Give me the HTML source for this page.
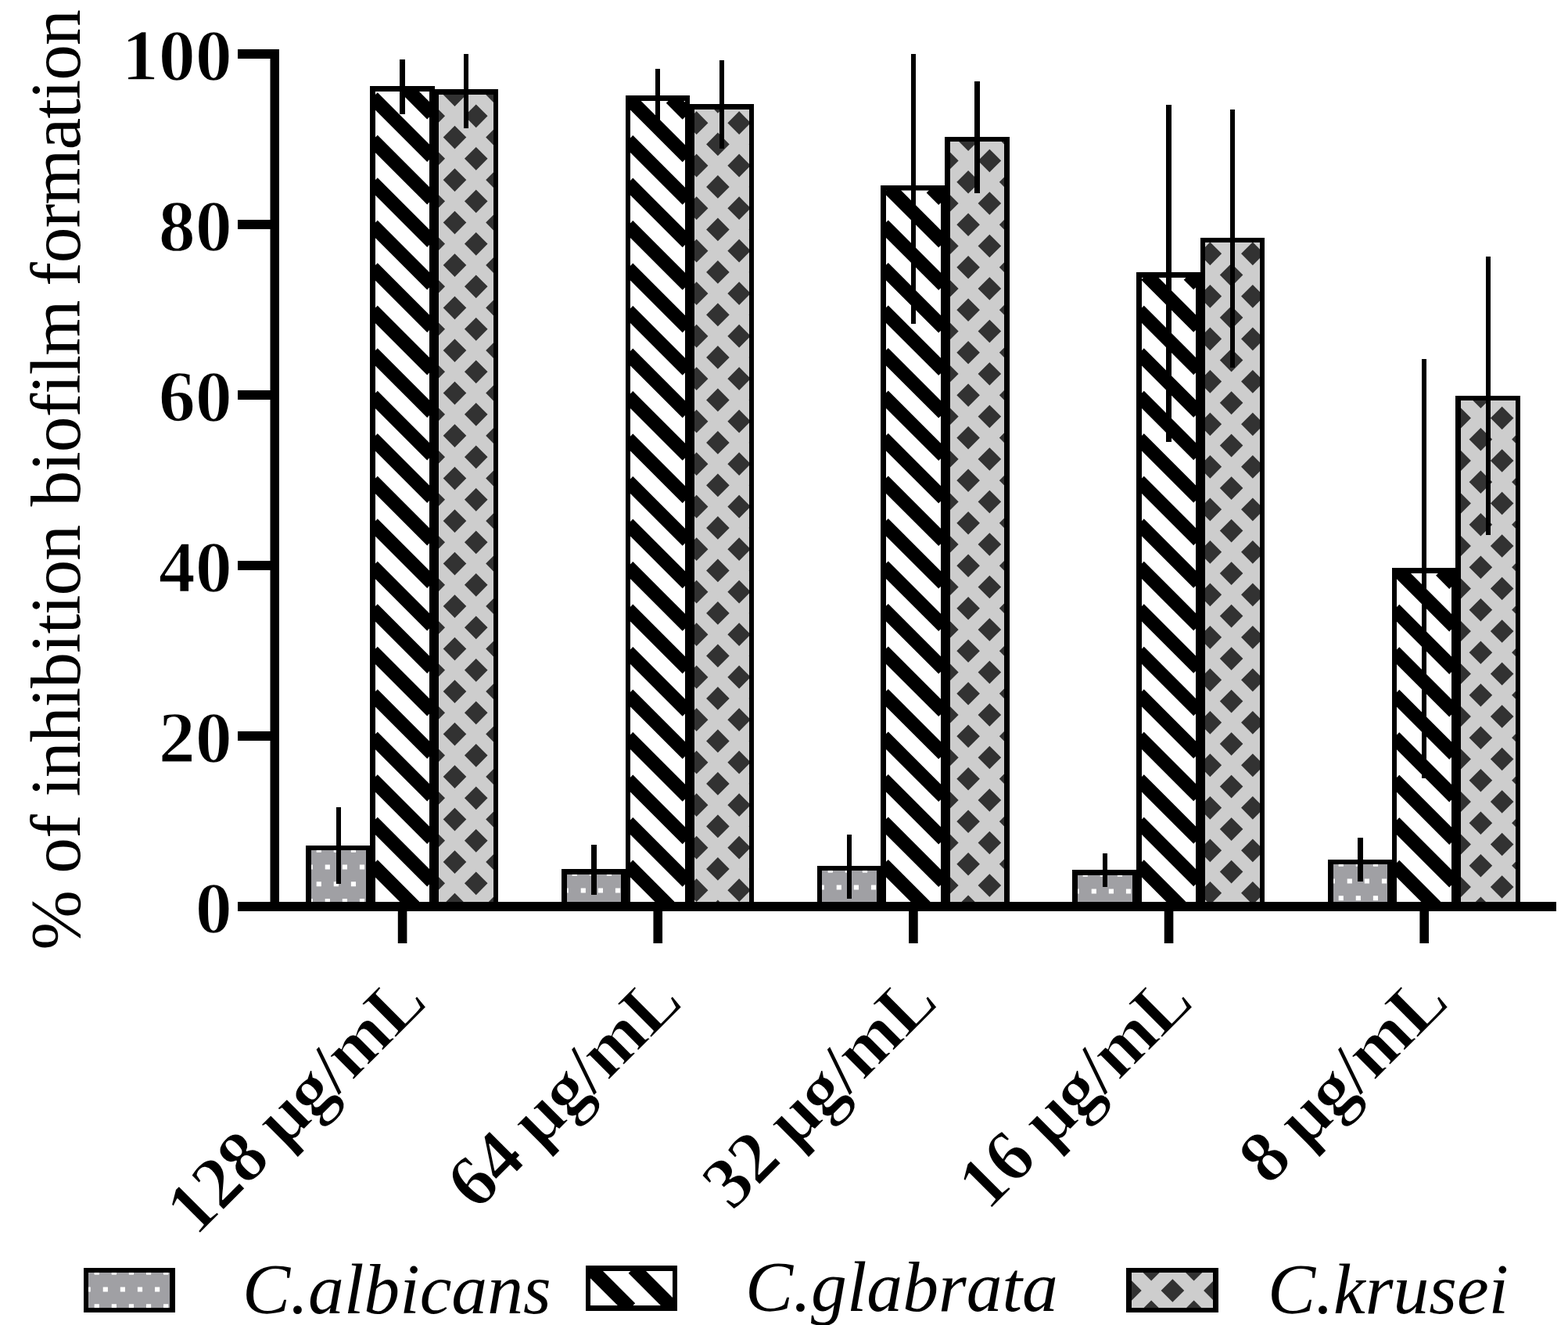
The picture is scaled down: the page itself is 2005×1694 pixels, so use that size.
<!DOCTYPE html>
<html lang="en"><head><meta charset="utf-8"><title>% of inhibition biofilm formation</title>
<style>html,body{margin:0;padding:0;background:#fff}body{width:2005px;height:1694px;overflow:hidden}svg{display:block}text{font-family:"Liberation Serif",serif;font-size:91.67px;fill:#000}.b{font-weight:bold;stroke:#fff;stroke-width:1.6px;stroke-linejoin:round}.b text{font-size:94.1px}#xticklabels{letter-spacing:-1.25px}.i{font-style:italic}</style></head><body>
<svg width="2005" height="1694" viewBox="0 0 2005 1694" role="img" aria-label="Bar chart: % of inhibition biofilm formation">
<rect x="0" y="0" width="2005" height="1694" fill="#fff"/>
<g id="bars">
<clipPath id="c1"><rect x="397" y="1086" width="72" height="68"/></clipPath>
<g clip-path="url(#c1)">
<rect x="397" y="1086" width="72" height="68" fill="#a0a0a4"/>
<path fill="#fff" d="M404.65 1083.65h6.2v6.2h-6.2zM426.75 1083.65h6.2v6.2h-6.2zM448.85 1083.65h6.2v6.2h-6.2zM470.95 1083.65h6.2v6.2h-6.2zM393.6 1105.4h6.2v6.2h-6.2zM415.7 1105.4h6.2v6.2h-6.2zM437.8 1105.4h6.2v6.2h-6.2zM459.9 1105.4h6.2v6.2h-6.2zM404.65 1127.15h6.2v6.2h-6.2zM426.75 1127.15h6.2v6.2h-6.2zM448.85 1127.15h6.2v6.2h-6.2zM470.95 1127.15h6.2v6.2h-6.2zM393.6 1148.9h6.2v6.2h-6.2zM415.7 1148.9h6.2v6.2h-6.2zM437.8 1148.9h6.2v6.2h-6.2zM459.9 1148.9h6.2v6.2h-6.2z"/>
</g>
<path fill="#000" d="M391 1081H475V1154H468V1087H398V1154H391Z"/>
<clipPath id="c2"><rect x="479" y="116" width="71" height="1038"/></clipPath>
<g clip-path="url(#c2)">
<rect x="479" y="116" width="71" height="1038" fill="#fff"/>
<path fill="none" stroke="#000" stroke-width="17.82" stroke-linecap="butt" d="M519.9 113.5L552.5 146.1M476.5 124.6L552.5 200.6M476.5 179.1L552.5 255.1M476.5 233.6L552.5 309.6M476.5 288.1L552.5 364.1M476.5 342.6L552.5 418.6M476.5 397.1L552.5 473.1M476.5 451.6L552.5 527.6M476.5 506.1L552.5 582.1M476.5 560.6L552.5 636.6M476.5 615.1L552.5 691.1M476.5 669.6L552.5 745.6M476.5 724.1L552.5 800.1M476.5 778.6L552.5 854.6M476.5 833.1L552.5 909.1M476.5 887.6L552.5 963.6M476.5 942.1L552.5 1018.1M476.5 996.6L552.5 1072.6M476.5 1051.1L552.5 1127.1M476.5 1105.6L529.9 1159"/>
</g>
<path fill="#000" d="M473 110H556V1154H549V117H480V1154H473Z"/>
<clipPath id="c3"><rect x="560" y="120" width="72" height="1034"/></clipPath>
<g clip-path="url(#c3)">
<rect x="560" y="120" width="72" height="1034" fill="#cdcdcd"/>
<path fill="#323232" d="M554.25 133.55l14.8 14.8l-14.8 14.8l-14.8 -14.8zM554.25 188.05l14.8 14.8l-14.8 14.8l-14.8 -14.8zM554.25 242.55l14.8 14.8l-14.8 14.8l-14.8 -14.8zM554.25 297.05l14.8 14.8l-14.8 14.8l-14.8 -14.8zM554.25 351.55l14.8 14.8l-14.8 14.8l-14.8 -14.8zM554.25 406.05l14.8 14.8l-14.8 14.8l-14.8 -14.8zM554.25 460.55l14.8 14.8l-14.8 14.8l-14.8 -14.8zM554.25 515.05l14.8 14.8l-14.8 14.8l-14.8 -14.8zM554.25 569.55l14.8 14.8l-14.8 14.8l-14.8 -14.8zM554.25 624.05l14.8 14.8l-14.8 14.8l-14.8 -14.8zM554.25 678.55l14.8 14.8l-14.8 14.8l-14.8 -14.8zM554.25 733.05l14.8 14.8l-14.8 14.8l-14.8 -14.8zM554.25 787.55l14.8 14.8l-14.8 14.8l-14.8 -14.8zM554.25 842.05l14.8 14.8l-14.8 14.8l-14.8 -14.8zM554.25 896.55l14.8 14.8l-14.8 14.8l-14.8 -14.8zM554.25 951.05l14.8 14.8l-14.8 14.8l-14.8 -14.8zM554.25 1005.55l14.8 14.8l-14.8 14.8l-14.8 -14.8zM554.25 1060.05l14.8 14.8l-14.8 14.8l-14.8 -14.8zM554.25 1114.55l14.8 14.8l-14.8 14.8l-14.8 -14.8zM581.5 106.3l14.8 14.8l-14.8 14.8l-14.8 -14.8zM581.5 160.8l14.8 14.8l-14.8 14.8l-14.8 -14.8zM581.5 215.3l14.8 14.8l-14.8 14.8l-14.8 -14.8zM581.5 269.8l14.8 14.8l-14.8 14.8l-14.8 -14.8zM581.5 324.3l14.8 14.8l-14.8 14.8l-14.8 -14.8zM581.5 378.8l14.8 14.8l-14.8 14.8l-14.8 -14.8zM581.5 433.3l14.8 14.8l-14.8 14.8l-14.8 -14.8zM581.5 487.8l14.8 14.8l-14.8 14.8l-14.8 -14.8zM581.5 542.3l14.8 14.8l-14.8 14.8l-14.8 -14.8zM581.5 596.8l14.8 14.8l-14.8 14.8l-14.8 -14.8zM581.5 651.3l14.8 14.8l-14.8 14.8l-14.8 -14.8zM581.5 705.8l14.8 14.8l-14.8 14.8l-14.8 -14.8zM581.5 760.3l14.8 14.8l-14.8 14.8l-14.8 -14.8zM581.5 814.8l14.8 14.8l-14.8 14.8l-14.8 -14.8zM581.5 869.3l14.8 14.8l-14.8 14.8l-14.8 -14.8zM581.5 923.8l14.8 14.8l-14.8 14.8l-14.8 -14.8zM581.5 978.3l14.8 14.8l-14.8 14.8l-14.8 -14.8zM581.5 1032.8l14.8 14.8l-14.8 14.8l-14.8 -14.8zM581.5 1087.3l14.8 14.8l-14.8 14.8l-14.8 -14.8zM581.5 1141.8l14.8 14.8l-14.8 14.8l-14.8 -14.8zM608.75 133.55l14.8 14.8l-14.8 14.8l-14.8 -14.8zM608.75 188.05l14.8 14.8l-14.8 14.8l-14.8 -14.8zM608.75 242.55l14.8 14.8l-14.8 14.8l-14.8 -14.8zM608.75 297.05l14.8 14.8l-14.8 14.8l-14.8 -14.8zM608.75 351.55l14.8 14.8l-14.8 14.8l-14.8 -14.8zM608.75 406.05l14.8 14.8l-14.8 14.8l-14.8 -14.8zM608.75 460.55l14.8 14.8l-14.8 14.8l-14.8 -14.8zM608.75 515.05l14.8 14.8l-14.8 14.8l-14.8 -14.8zM608.75 569.55l14.8 14.8l-14.8 14.8l-14.8 -14.8zM608.75 624.05l14.8 14.8l-14.8 14.8l-14.8 -14.8zM608.75 678.55l14.8 14.8l-14.8 14.8l-14.8 -14.8zM608.75 733.05l14.8 14.8l-14.8 14.8l-14.8 -14.8zM608.75 787.55l14.8 14.8l-14.8 14.8l-14.8 -14.8zM608.75 842.05l14.8 14.8l-14.8 14.8l-14.8 -14.8zM608.75 896.55l14.8 14.8l-14.8 14.8l-14.8 -14.8zM608.75 951.05l14.8 14.8l-14.8 14.8l-14.8 -14.8zM608.75 1005.55l14.8 14.8l-14.8 14.8l-14.8 -14.8zM608.75 1060.05l14.8 14.8l-14.8 14.8l-14.8 -14.8zM608.75 1114.55l14.8 14.8l-14.8 14.8l-14.8 -14.8zM636 106.3l14.8 14.8l-14.8 14.8l-14.8 -14.8zM636 160.8l14.8 14.8l-14.8 14.8l-14.8 -14.8zM636 215.3l14.8 14.8l-14.8 14.8l-14.8 -14.8zM636 269.8l14.8 14.8l-14.8 14.8l-14.8 -14.8zM636 324.3l14.8 14.8l-14.8 14.8l-14.8 -14.8zM636 378.8l14.8 14.8l-14.8 14.8l-14.8 -14.8zM636 433.3l14.8 14.8l-14.8 14.8l-14.8 -14.8zM636 487.8l14.8 14.8l-14.8 14.8l-14.8 -14.8zM636 542.3l14.8 14.8l-14.8 14.8l-14.8 -14.8zM636 596.8l14.8 14.8l-14.8 14.8l-14.8 -14.8zM636 651.3l14.8 14.8l-14.8 14.8l-14.8 -14.8zM636 705.8l14.8 14.8l-14.8 14.8l-14.8 -14.8zM636 760.3l14.8 14.8l-14.8 14.8l-14.8 -14.8zM636 814.8l14.8 14.8l-14.8 14.8l-14.8 -14.8zM636 869.3l14.8 14.8l-14.8 14.8l-14.8 -14.8zM636 923.8l14.8 14.8l-14.8 14.8l-14.8 -14.8zM636 978.3l14.8 14.8l-14.8 14.8l-14.8 -14.8zM636 1032.8l14.8 14.8l-14.8 14.8l-14.8 -14.8zM636 1087.3l14.8 14.8l-14.8 14.8l-14.8 -14.8zM636 1141.8l14.8 14.8l-14.8 14.8l-14.8 -14.8z"/>
</g>
<path fill="#000" d="M554 114H637V1154H631V121H561V1154H554Z"/>
<clipPath id="c4"><rect x="724" y="1117" width="71" height="37"/></clipPath>
<g clip-path="url(#c4)">
<rect x="724" y="1117" width="71" height="37" fill="#a0a0a4"/>
<path fill="#fff" d="M731.65 1113.65h6.2v6.2h-6.2zM753.75 1113.65h6.2v6.2h-6.2zM775.85 1113.65h6.2v6.2h-6.2zM797.95 1113.65h6.2v6.2h-6.2zM720.6 1135.4h6.2v6.2h-6.2zM742.7 1135.4h6.2v6.2h-6.2zM764.8 1135.4h6.2v6.2h-6.2zM786.9 1135.4h6.2v6.2h-6.2z"/>
</g>
<path fill="#000" d="M718 1111H801V1154H794V1118H725V1154H718Z"/>
<clipPath id="c5"><rect x="805" y="128" width="72" height="1026"/></clipPath>
<g clip-path="url(#c5)">
<rect x="805" y="128" width="72" height="1026" fill="#fff"/>
<path fill="none" stroke="#000" stroke-width="17.82" stroke-linecap="butt" d="M858.1 125.5L879 146.4M803.6 125.5L879 200.9M803 179.4L879 255.4M803 233.9L879 309.9M803 288.4L879 364.4M803 342.9L879 418.9M803 397.4L879 473.4M803 451.9L879 527.9M803 506.4L879 582.4M803 560.9L879 636.9M803 615.4L879 691.4M803 669.9L879 745.9M803 724.4L879 800.4M803 778.9L879 854.9M803 833.4L879 909.4M803 887.9L879 963.9M803 942.4L879 1018.4M803 996.9L879 1072.9M803 1051.4L879 1127.4M803 1105.9L856.1 1159"/>
</g>
<path fill="#000" d="M800 122H882V1154H876V129H806V1154H800Z"/>
<clipPath id="c6"><rect x="887" y="139" width="72" height="1015"/></clipPath>
<g clip-path="url(#c6)">
<rect x="887" y="139" width="72" height="1015" fill="#cdcdcd"/>
<path fill="#323232" d="M890.65 142.35l14.8 14.8l-14.8 14.8l-14.8 -14.8zM890.65 196.85l14.8 14.8l-14.8 14.8l-14.8 -14.8zM890.65 251.35l14.8 14.8l-14.8 14.8l-14.8 -14.8zM890.65 305.85l14.8 14.8l-14.8 14.8l-14.8 -14.8zM890.65 360.35l14.8 14.8l-14.8 14.8l-14.8 -14.8zM890.65 414.85l14.8 14.8l-14.8 14.8l-14.8 -14.8zM890.65 469.35l14.8 14.8l-14.8 14.8l-14.8 -14.8zM890.65 523.85l14.8 14.8l-14.8 14.8l-14.8 -14.8zM890.65 578.35l14.8 14.8l-14.8 14.8l-14.8 -14.8zM890.65 632.85l14.8 14.8l-14.8 14.8l-14.8 -14.8zM890.65 687.35l14.8 14.8l-14.8 14.8l-14.8 -14.8zM890.65 741.85l14.8 14.8l-14.8 14.8l-14.8 -14.8zM890.65 796.35l14.8 14.8l-14.8 14.8l-14.8 -14.8zM890.65 850.85l14.8 14.8l-14.8 14.8l-14.8 -14.8zM890.65 905.35l14.8 14.8l-14.8 14.8l-14.8 -14.8zM890.65 959.85l14.8 14.8l-14.8 14.8l-14.8 -14.8zM890.65 1014.35l14.8 14.8l-14.8 14.8l-14.8 -14.8zM890.65 1068.85l14.8 14.8l-14.8 14.8l-14.8 -14.8zM890.65 1123.35l14.8 14.8l-14.8 14.8l-14.8 -14.8zM917.9 115.1l14.8 14.8l-14.8 14.8l-14.8 -14.8zM917.9 169.6l14.8 14.8l-14.8 14.8l-14.8 -14.8zM917.9 224.1l14.8 14.8l-14.8 14.8l-14.8 -14.8zM917.9 278.6l14.8 14.8l-14.8 14.8l-14.8 -14.8zM917.9 333.1l14.8 14.8l-14.8 14.8l-14.8 -14.8zM917.9 387.6l14.8 14.8l-14.8 14.8l-14.8 -14.8zM917.9 442.1l14.8 14.8l-14.8 14.8l-14.8 -14.8zM917.9 496.6l14.8 14.8l-14.8 14.8l-14.8 -14.8zM917.9 551.1l14.8 14.8l-14.8 14.8l-14.8 -14.8zM917.9 605.6l14.8 14.8l-14.8 14.8l-14.8 -14.8zM917.9 660.1l14.8 14.8l-14.8 14.8l-14.8 -14.8zM917.9 714.6l14.8 14.8l-14.8 14.8l-14.8 -14.8zM917.9 769.1l14.8 14.8l-14.8 14.8l-14.8 -14.8zM917.9 823.6l14.8 14.8l-14.8 14.8l-14.8 -14.8zM917.9 878.1l14.8 14.8l-14.8 14.8l-14.8 -14.8zM917.9 932.6l14.8 14.8l-14.8 14.8l-14.8 -14.8zM917.9 987.1l14.8 14.8l-14.8 14.8l-14.8 -14.8zM917.9 1041.6l14.8 14.8l-14.8 14.8l-14.8 -14.8zM917.9 1096.1l14.8 14.8l-14.8 14.8l-14.8 -14.8zM917.9 1150.6l14.8 14.8l-14.8 14.8l-14.8 -14.8zM945.15 142.35l14.8 14.8l-14.8 14.8l-14.8 -14.8zM945.15 196.85l14.8 14.8l-14.8 14.8l-14.8 -14.8zM945.15 251.35l14.8 14.8l-14.8 14.8l-14.8 -14.8zM945.15 305.85l14.8 14.8l-14.8 14.8l-14.8 -14.8zM945.15 360.35l14.8 14.8l-14.8 14.8l-14.8 -14.8zM945.15 414.85l14.8 14.8l-14.8 14.8l-14.8 -14.8zM945.15 469.35l14.8 14.8l-14.8 14.8l-14.8 -14.8zM945.15 523.85l14.8 14.8l-14.8 14.8l-14.8 -14.8zM945.15 578.35l14.8 14.8l-14.8 14.8l-14.8 -14.8zM945.15 632.85l14.8 14.8l-14.8 14.8l-14.8 -14.8zM945.15 687.35l14.8 14.8l-14.8 14.8l-14.8 -14.8zM945.15 741.85l14.8 14.8l-14.8 14.8l-14.8 -14.8zM945.15 796.35l14.8 14.8l-14.8 14.8l-14.8 -14.8zM945.15 850.85l14.8 14.8l-14.8 14.8l-14.8 -14.8zM945.15 905.35l14.8 14.8l-14.8 14.8l-14.8 -14.8zM945.15 959.85l14.8 14.8l-14.8 14.8l-14.8 -14.8zM945.15 1014.35l14.8 14.8l-14.8 14.8l-14.8 -14.8zM945.15 1068.85l14.8 14.8l-14.8 14.8l-14.8 -14.8zM945.15 1123.35l14.8 14.8l-14.8 14.8l-14.8 -14.8zM972.4 115.1l14.8 14.8l-14.8 14.8l-14.8 -14.8zM972.4 169.6l14.8 14.8l-14.8 14.8l-14.8 -14.8zM972.4 224.1l14.8 14.8l-14.8 14.8l-14.8 -14.8zM972.4 278.6l14.8 14.8l-14.8 14.8l-14.8 -14.8zM972.4 333.1l14.8 14.8l-14.8 14.8l-14.8 -14.8zM972.4 387.6l14.8 14.8l-14.8 14.8l-14.8 -14.8zM972.4 442.1l14.8 14.8l-14.8 14.8l-14.8 -14.8zM972.4 496.6l14.8 14.8l-14.8 14.8l-14.8 -14.8zM972.4 551.1l14.8 14.8l-14.8 14.8l-14.8 -14.8zM972.4 605.6l14.8 14.8l-14.8 14.8l-14.8 -14.8zM972.4 660.1l14.8 14.8l-14.8 14.8l-14.8 -14.8zM972.4 714.6l14.8 14.8l-14.8 14.8l-14.8 -14.8zM972.4 769.1l14.8 14.8l-14.8 14.8l-14.8 -14.8zM972.4 823.6l14.8 14.8l-14.8 14.8l-14.8 -14.8zM972.4 878.1l14.8 14.8l-14.8 14.8l-14.8 -14.8zM972.4 932.6l14.8 14.8l-14.8 14.8l-14.8 -14.8zM972.4 987.1l14.8 14.8l-14.8 14.8l-14.8 -14.8zM972.4 1041.6l14.8 14.8l-14.8 14.8l-14.8 -14.8zM972.4 1096.1l14.8 14.8l-14.8 14.8l-14.8 -14.8zM972.4 1150.6l14.8 14.8l-14.8 14.8l-14.8 -14.8z"/>
</g>
<path fill="#000" d="M881 133H964V1154H958V140H888V1154H881Z"/>
<clipPath id="c7"><rect x="1050" y="1112" width="72" height="42"/></clipPath>
<g clip-path="url(#c7)">
<rect x="1050" y="1112" width="72" height="42" fill="#a0a0a4"/>
<path fill="#fff" d="M1058.65 1109.65h6.2v6.2h-6.2zM1080.75 1109.65h6.2v6.2h-6.2zM1102.85 1109.65h6.2v6.2h-6.2zM1124.95 1109.65h6.2v6.2h-6.2zM1047.6 1131.4h6.2v6.2h-6.2zM1069.7 1131.4h6.2v6.2h-6.2zM1091.8 1131.4h6.2v6.2h-6.2zM1113.9 1131.4h6.2v6.2h-6.2zM1058.65 1153.15h6.2v6.2h-6.2zM1080.75 1153.15h6.2v6.2h-6.2zM1102.85 1153.15h6.2v6.2h-6.2zM1124.95 1153.15h6.2v6.2h-6.2z"/>
</g>
<path fill="#000" d="M1045 1107H1128V1154H1121V1113H1051V1154H1045Z"/>
<clipPath id="c8"><rect x="1132" y="242.5" width="72" height="911.5"/></clipPath>
<g clip-path="url(#c8)">
<rect x="1132" y="242.5" width="72" height="911.5" fill="#fff"/>
<path fill="none" stroke="#000" stroke-width="17.82" stroke-linecap="butt" d="M1190.95 240.25L1206.5 255.8M1136.45 240.25L1206.5 310.3M1129.5 287.8L1206.5 364.8M1129.5 342.3L1206.5 419.3M1129.5 396.8L1206.5 473.8M1129.5 451.3L1206.5 528.3M1129.5 505.8L1206.5 582.8M1129.5 560.3L1206.5 637.3M1129.5 614.8L1206.5 691.8M1129.5 669.3L1206.5 746.3M1129.5 723.8L1206.5 800.8M1129.5 778.3L1206.5 855.3M1129.5 832.8L1206.5 909.8M1129.5 887.3L1206.5 964.3M1129.5 941.8L1206.5 1018.8M1129.5 996.3L1206.5 1073.3M1129.5 1050.8L1206.5 1127.8M1129.5 1105.3L1183.2 1159"/>
</g>
<path fill="#000" d="M1126 237H1210V1154H1203V243.5H1133V1154H1126Z"/>
<clipPath id="c9"><rect x="1214" y="180" width="71" height="974"/></clipPath>
<g clip-path="url(#c9)">
<rect x="1214" y="180" width="71" height="974" fill="#cdcdcd"/>
<path fill="#323232" d="M1210.85 190.65l14.8 14.8l-14.8 14.8l-14.8 -14.8zM1210.85 245.15l14.8 14.8l-14.8 14.8l-14.8 -14.8zM1210.85 299.65l14.8 14.8l-14.8 14.8l-14.8 -14.8zM1210.85 354.15l14.8 14.8l-14.8 14.8l-14.8 -14.8zM1210.85 408.65l14.8 14.8l-14.8 14.8l-14.8 -14.8zM1210.85 463.15l14.8 14.8l-14.8 14.8l-14.8 -14.8zM1210.85 517.65l14.8 14.8l-14.8 14.8l-14.8 -14.8zM1210.85 572.15l14.8 14.8l-14.8 14.8l-14.8 -14.8zM1210.85 626.65l14.8 14.8l-14.8 14.8l-14.8 -14.8zM1210.85 681.15l14.8 14.8l-14.8 14.8l-14.8 -14.8zM1210.85 735.65l14.8 14.8l-14.8 14.8l-14.8 -14.8zM1210.85 790.15l14.8 14.8l-14.8 14.8l-14.8 -14.8zM1210.85 844.65l14.8 14.8l-14.8 14.8l-14.8 -14.8zM1210.85 899.15l14.8 14.8l-14.8 14.8l-14.8 -14.8zM1210.85 953.65l14.8 14.8l-14.8 14.8l-14.8 -14.8zM1210.85 1008.15l14.8 14.8l-14.8 14.8l-14.8 -14.8zM1210.85 1062.65l14.8 14.8l-14.8 14.8l-14.8 -14.8zM1210.85 1117.15l14.8 14.8l-14.8 14.8l-14.8 -14.8zM1238.1 163.4l14.8 14.8l-14.8 14.8l-14.8 -14.8zM1238.1 217.9l14.8 14.8l-14.8 14.8l-14.8 -14.8zM1238.1 272.4l14.8 14.8l-14.8 14.8l-14.8 -14.8zM1238.1 326.9l14.8 14.8l-14.8 14.8l-14.8 -14.8zM1238.1 381.4l14.8 14.8l-14.8 14.8l-14.8 -14.8zM1238.1 435.9l14.8 14.8l-14.8 14.8l-14.8 -14.8zM1238.1 490.4l14.8 14.8l-14.8 14.8l-14.8 -14.8zM1238.1 544.9l14.8 14.8l-14.8 14.8l-14.8 -14.8zM1238.1 599.4l14.8 14.8l-14.8 14.8l-14.8 -14.8zM1238.1 653.9l14.8 14.8l-14.8 14.8l-14.8 -14.8zM1238.1 708.4l14.8 14.8l-14.8 14.8l-14.8 -14.8zM1238.1 762.9l14.8 14.8l-14.8 14.8l-14.8 -14.8zM1238.1 817.4l14.8 14.8l-14.8 14.8l-14.8 -14.8zM1238.1 871.9l14.8 14.8l-14.8 14.8l-14.8 -14.8zM1238.1 926.4l14.8 14.8l-14.8 14.8l-14.8 -14.8zM1238.1 980.9l14.8 14.8l-14.8 14.8l-14.8 -14.8zM1238.1 1035.4l14.8 14.8l-14.8 14.8l-14.8 -14.8zM1238.1 1089.9l14.8 14.8l-14.8 14.8l-14.8 -14.8zM1238.1 1144.4l14.8 14.8l-14.8 14.8l-14.8 -14.8zM1265.35 190.65l14.8 14.8l-14.8 14.8l-14.8 -14.8zM1265.35 245.15l14.8 14.8l-14.8 14.8l-14.8 -14.8zM1265.35 299.65l14.8 14.8l-14.8 14.8l-14.8 -14.8zM1265.35 354.15l14.8 14.8l-14.8 14.8l-14.8 -14.8zM1265.35 408.65l14.8 14.8l-14.8 14.8l-14.8 -14.8zM1265.35 463.15l14.8 14.8l-14.8 14.8l-14.8 -14.8zM1265.35 517.65l14.8 14.8l-14.8 14.8l-14.8 -14.8zM1265.35 572.15l14.8 14.8l-14.8 14.8l-14.8 -14.8zM1265.35 626.65l14.8 14.8l-14.8 14.8l-14.8 -14.8zM1265.35 681.15l14.8 14.8l-14.8 14.8l-14.8 -14.8zM1265.35 735.65l14.8 14.8l-14.8 14.8l-14.8 -14.8zM1265.35 790.15l14.8 14.8l-14.8 14.8l-14.8 -14.8zM1265.35 844.65l14.8 14.8l-14.8 14.8l-14.8 -14.8zM1265.35 899.15l14.8 14.8l-14.8 14.8l-14.8 -14.8zM1265.35 953.65l14.8 14.8l-14.8 14.8l-14.8 -14.8zM1265.35 1008.15l14.8 14.8l-14.8 14.8l-14.8 -14.8zM1265.35 1062.65l14.8 14.8l-14.8 14.8l-14.8 -14.8zM1265.35 1117.15l14.8 14.8l-14.8 14.8l-14.8 -14.8zM1292.6 163.4l14.8 14.8l-14.8 14.8l-14.8 -14.8zM1292.6 217.9l14.8 14.8l-14.8 14.8l-14.8 -14.8zM1292.6 272.4l14.8 14.8l-14.8 14.8l-14.8 -14.8zM1292.6 326.9l14.8 14.8l-14.8 14.8l-14.8 -14.8zM1292.6 381.4l14.8 14.8l-14.8 14.8l-14.8 -14.8zM1292.6 435.9l14.8 14.8l-14.8 14.8l-14.8 -14.8zM1292.6 490.4l14.8 14.8l-14.8 14.8l-14.8 -14.8zM1292.6 544.9l14.8 14.8l-14.8 14.8l-14.8 -14.8zM1292.6 599.4l14.8 14.8l-14.8 14.8l-14.8 -14.8zM1292.6 653.9l14.8 14.8l-14.8 14.8l-14.8 -14.8zM1292.6 708.4l14.8 14.8l-14.8 14.8l-14.8 -14.8zM1292.6 762.9l14.8 14.8l-14.8 14.8l-14.8 -14.8zM1292.6 817.4l14.8 14.8l-14.8 14.8l-14.8 -14.8zM1292.6 871.9l14.8 14.8l-14.8 14.8l-14.8 -14.8zM1292.6 926.4l14.8 14.8l-14.8 14.8l-14.8 -14.8zM1292.6 980.9l14.8 14.8l-14.8 14.8l-14.8 -14.8zM1292.6 1035.4l14.8 14.8l-14.8 14.8l-14.8 -14.8zM1292.6 1089.9l14.8 14.8l-14.8 14.8l-14.8 -14.8zM1292.6 1144.4l14.8 14.8l-14.8 14.8l-14.8 -14.8z"/>
</g>
<path fill="#000" d="M1208 175H1291V1154H1284V181H1215V1154H1208Z"/>
<clipPath id="c10"><rect x="1377" y="1118" width="72" height="36"/></clipPath>
<g clip-path="url(#c10)">
<rect x="1377" y="1118" width="72" height="36" fill="#a0a0a4"/>
<path fill="#fff" d="M1384.65 1114.65h6.2v6.2h-6.2zM1406.75 1114.65h6.2v6.2h-6.2zM1428.85 1114.65h6.2v6.2h-6.2zM1450.95 1114.65h6.2v6.2h-6.2zM1373.6 1136.4h6.2v6.2h-6.2zM1395.7 1136.4h6.2v6.2h-6.2zM1417.8 1136.4h6.2v6.2h-6.2zM1439.9 1136.4h6.2v6.2h-6.2z"/>
</g>
<path fill="#000" d="M1371 1112H1455V1154H1448V1119H1378V1154H1371Z"/>
<clipPath id="c11"><rect x="1459" y="354" width="71" height="800"/></clipPath>
<g clip-path="url(#c11)">
<rect x="1459" y="354" width="71" height="800" fill="#fff"/>
<path fill="none" stroke="#000" stroke-width="17.82" stroke-linecap="butt" d="M1520 351.5L1532.5 364M1465.5 351.5L1532.5 418.5M1456.5 397L1532.5 473M1456.5 451.5L1532.5 527.5M1456.5 506L1532.5 582M1456.5 560.5L1532.5 636.5M1456.5 615L1532.5 691M1456.5 669.5L1532.5 745.5M1456.5 724L1532.5 800M1456.5 778.5L1532.5 854.5M1456.5 833L1532.5 909M1456.5 887.5L1532.5 963.5M1456.5 942L1532.5 1018M1456.5 996.5L1532.5 1072.5M1456.5 1051L1532.5 1127M1456.5 1105.5L1510 1159"/>
</g>
<path fill="#000" d="M1453 348H1536V1154H1529V355H1460V1154H1453Z"/>
<clipPath id="c12"><rect x="1540" y="309" width="72" height="845"/></clipPath>
<g clip-path="url(#c12)">
<rect x="1540" y="309" width="72" height="845" fill="#cdcdcd"/>
<path fill="#323232" d="M1547.35 309.55l14.8 14.8l-14.8 14.8l-14.8 -14.8zM1547.35 364.05l14.8 14.8l-14.8 14.8l-14.8 -14.8zM1547.35 418.55l14.8 14.8l-14.8 14.8l-14.8 -14.8zM1547.35 473.05l14.8 14.8l-14.8 14.8l-14.8 -14.8zM1547.35 527.55l14.8 14.8l-14.8 14.8l-14.8 -14.8zM1547.35 582.05l14.8 14.8l-14.8 14.8l-14.8 -14.8zM1547.35 636.55l14.8 14.8l-14.8 14.8l-14.8 -14.8zM1547.35 691.05l14.8 14.8l-14.8 14.8l-14.8 -14.8zM1547.35 745.55l14.8 14.8l-14.8 14.8l-14.8 -14.8zM1547.35 800.05l14.8 14.8l-14.8 14.8l-14.8 -14.8zM1547.35 854.55l14.8 14.8l-14.8 14.8l-14.8 -14.8zM1547.35 909.05l14.8 14.8l-14.8 14.8l-14.8 -14.8zM1547.35 963.55l14.8 14.8l-14.8 14.8l-14.8 -14.8zM1547.35 1018.05l14.8 14.8l-14.8 14.8l-14.8 -14.8zM1547.35 1072.55l14.8 14.8l-14.8 14.8l-14.8 -14.8zM1547.35 1127.05l14.8 14.8l-14.8 14.8l-14.8 -14.8zM1574.6 282.3l14.8 14.8l-14.8 14.8l-14.8 -14.8zM1574.6 336.8l14.8 14.8l-14.8 14.8l-14.8 -14.8zM1574.6 391.3l14.8 14.8l-14.8 14.8l-14.8 -14.8zM1574.6 445.8l14.8 14.8l-14.8 14.8l-14.8 -14.8zM1574.6 500.3l14.8 14.8l-14.8 14.8l-14.8 -14.8zM1574.6 554.8l14.8 14.8l-14.8 14.8l-14.8 -14.8zM1574.6 609.3l14.8 14.8l-14.8 14.8l-14.8 -14.8zM1574.6 663.8l14.8 14.8l-14.8 14.8l-14.8 -14.8zM1574.6 718.3l14.8 14.8l-14.8 14.8l-14.8 -14.8zM1574.6 772.8l14.8 14.8l-14.8 14.8l-14.8 -14.8zM1574.6 827.3l14.8 14.8l-14.8 14.8l-14.8 -14.8zM1574.6 881.8l14.8 14.8l-14.8 14.8l-14.8 -14.8zM1574.6 936.3l14.8 14.8l-14.8 14.8l-14.8 -14.8zM1574.6 990.8l14.8 14.8l-14.8 14.8l-14.8 -14.8zM1574.6 1045.3l14.8 14.8l-14.8 14.8l-14.8 -14.8zM1574.6 1099.8l14.8 14.8l-14.8 14.8l-14.8 -14.8zM1601.85 309.55l14.8 14.8l-14.8 14.8l-14.8 -14.8zM1601.85 364.05l14.8 14.8l-14.8 14.8l-14.8 -14.8zM1601.85 418.55l14.8 14.8l-14.8 14.8l-14.8 -14.8zM1601.85 473.05l14.8 14.8l-14.8 14.8l-14.8 -14.8zM1601.85 527.55l14.8 14.8l-14.8 14.8l-14.8 -14.8zM1601.85 582.05l14.8 14.8l-14.8 14.8l-14.8 -14.8zM1601.85 636.55l14.8 14.8l-14.8 14.8l-14.8 -14.8zM1601.85 691.05l14.8 14.8l-14.8 14.8l-14.8 -14.8zM1601.85 745.55l14.8 14.8l-14.8 14.8l-14.8 -14.8zM1601.85 800.05l14.8 14.8l-14.8 14.8l-14.8 -14.8zM1601.85 854.55l14.8 14.8l-14.8 14.8l-14.8 -14.8zM1601.85 909.05l14.8 14.8l-14.8 14.8l-14.8 -14.8zM1601.85 963.55l14.8 14.8l-14.8 14.8l-14.8 -14.8zM1601.85 1018.05l14.8 14.8l-14.8 14.8l-14.8 -14.8zM1601.85 1072.55l14.8 14.8l-14.8 14.8l-14.8 -14.8zM1601.85 1127.05l14.8 14.8l-14.8 14.8l-14.8 -14.8z"/>
</g>
<path fill="#000" d="M1535 304H1617V1154H1611V310H1541V1154H1535Z"/>
<clipPath id="c13"><rect x="1704" y="1104" width="71" height="50"/></clipPath>
<g clip-path="url(#c13)">
<rect x="1704" y="1104" width="71" height="50" fill="#a0a0a4"/>
<path fill="#fff" d="M1711.65 1101.65h6.2v6.2h-6.2zM1733.75 1101.65h6.2v6.2h-6.2zM1755.85 1101.65h6.2v6.2h-6.2zM1777.95 1101.65h6.2v6.2h-6.2zM1700.6 1123.4h6.2v6.2h-6.2zM1722.7 1123.4h6.2v6.2h-6.2zM1744.8 1123.4h6.2v6.2h-6.2zM1766.9 1123.4h6.2v6.2h-6.2zM1711.65 1145.15h6.2v6.2h-6.2zM1733.75 1145.15h6.2v6.2h-6.2zM1755.85 1145.15h6.2v6.2h-6.2zM1777.95 1145.15h6.2v6.2h-6.2z"/>
</g>
<path fill="#000" d="M1698 1099H1781V1154H1774V1105H1705V1154H1698Z"/>
<clipPath id="c14"><rect x="1785" y="732" width="72" height="422"/></clipPath>
<g clip-path="url(#c14)">
<rect x="1785" y="732" width="72" height="422" fill="#fff"/>
<path fill="none" stroke="#000" stroke-width="17.82" stroke-linecap="butt" d="M1842.4 729.5L1859.5 746.6M1787.9 729.5L1859.5 801.1M1783 779.1L1859.5 855.6M1783 833.6L1859.5 910.1M1783 888.1L1859.5 964.6M1783 942.6L1859.5 1019.1M1783 997.1L1859.5 1073.6M1783 1051.6L1859.5 1128.1M1783 1106.1L1835.9 1159"/>
</g>
<path fill="#000" d="M1780 726H1863V1154H1856V733H1786V1154H1780Z"/>
<clipPath id="c15"><rect x="1867" y="511" width="72" height="643"/></clipPath>
<g clip-path="url(#c15)">
<rect x="1867" y="511" width="72" height="643" fill="#cdcdcd"/>
<path fill="#323232" d="M1866.15 519.65l14.8 14.8l-14.8 14.8l-14.8 -14.8zM1866.15 574.15l14.8 14.8l-14.8 14.8l-14.8 -14.8zM1866.15 628.65l14.8 14.8l-14.8 14.8l-14.8 -14.8zM1866.15 683.15l14.8 14.8l-14.8 14.8l-14.8 -14.8zM1866.15 737.65l14.8 14.8l-14.8 14.8l-14.8 -14.8zM1866.15 792.15l14.8 14.8l-14.8 14.8l-14.8 -14.8zM1866.15 846.65l14.8 14.8l-14.8 14.8l-14.8 -14.8zM1866.15 901.15l14.8 14.8l-14.8 14.8l-14.8 -14.8zM1866.15 955.65l14.8 14.8l-14.8 14.8l-14.8 -14.8zM1866.15 1010.15l14.8 14.8l-14.8 14.8l-14.8 -14.8zM1866.15 1064.65l14.8 14.8l-14.8 14.8l-14.8 -14.8zM1866.15 1119.15l14.8 14.8l-14.8 14.8l-14.8 -14.8zM1893.4 492.4l14.8 14.8l-14.8 14.8l-14.8 -14.8zM1893.4 546.9l14.8 14.8l-14.8 14.8l-14.8 -14.8zM1893.4 601.4l14.8 14.8l-14.8 14.8l-14.8 -14.8zM1893.4 655.9l14.8 14.8l-14.8 14.8l-14.8 -14.8zM1893.4 710.4l14.8 14.8l-14.8 14.8l-14.8 -14.8zM1893.4 764.9l14.8 14.8l-14.8 14.8l-14.8 -14.8zM1893.4 819.4l14.8 14.8l-14.8 14.8l-14.8 -14.8zM1893.4 873.9l14.8 14.8l-14.8 14.8l-14.8 -14.8zM1893.4 928.4l14.8 14.8l-14.8 14.8l-14.8 -14.8zM1893.4 982.9l14.8 14.8l-14.8 14.8l-14.8 -14.8zM1893.4 1037.4l14.8 14.8l-14.8 14.8l-14.8 -14.8zM1893.4 1091.9l14.8 14.8l-14.8 14.8l-14.8 -14.8zM1893.4 1146.4l14.8 14.8l-14.8 14.8l-14.8 -14.8zM1920.65 519.65l14.8 14.8l-14.8 14.8l-14.8 -14.8zM1920.65 574.15l14.8 14.8l-14.8 14.8l-14.8 -14.8zM1920.65 628.65l14.8 14.8l-14.8 14.8l-14.8 -14.8zM1920.65 683.15l14.8 14.8l-14.8 14.8l-14.8 -14.8zM1920.65 737.65l14.8 14.8l-14.8 14.8l-14.8 -14.8zM1920.65 792.15l14.8 14.8l-14.8 14.8l-14.8 -14.8zM1920.65 846.65l14.8 14.8l-14.8 14.8l-14.8 -14.8zM1920.65 901.15l14.8 14.8l-14.8 14.8l-14.8 -14.8zM1920.65 955.65l14.8 14.8l-14.8 14.8l-14.8 -14.8zM1920.65 1010.15l14.8 14.8l-14.8 14.8l-14.8 -14.8zM1920.65 1064.65l14.8 14.8l-14.8 14.8l-14.8 -14.8zM1920.65 1119.15l14.8 14.8l-14.8 14.8l-14.8 -14.8zM1947.9 492.4l14.8 14.8l-14.8 14.8l-14.8 -14.8zM1947.9 546.9l14.8 14.8l-14.8 14.8l-14.8 -14.8zM1947.9 601.4l14.8 14.8l-14.8 14.8l-14.8 -14.8zM1947.9 655.9l14.8 14.8l-14.8 14.8l-14.8 -14.8zM1947.9 710.4l14.8 14.8l-14.8 14.8l-14.8 -14.8zM1947.9 764.9l14.8 14.8l-14.8 14.8l-14.8 -14.8zM1947.9 819.4l14.8 14.8l-14.8 14.8l-14.8 -14.8zM1947.9 873.9l14.8 14.8l-14.8 14.8l-14.8 -14.8zM1947.9 928.4l14.8 14.8l-14.8 14.8l-14.8 -14.8zM1947.9 982.9l14.8 14.8l-14.8 14.8l-14.8 -14.8zM1947.9 1037.4l14.8 14.8l-14.8 14.8l-14.8 -14.8zM1947.9 1091.9l14.8 14.8l-14.8 14.8l-14.8 -14.8zM1947.9 1146.4l14.8 14.8l-14.8 14.8l-14.8 -14.8z"/>
</g>
<path fill="#000" d="M1861 506H1944V1154H1938V512H1868V1154H1861Z"/>
</g>
<g id="errorbars">
<rect x="430" y="1032" width="6" height="98" fill="#000"/>
<rect x="511" y="76" width="7" height="70" fill="#000"/>
<rect x="593" y="69" width="6" height="95" fill="#000"/>
<rect x="756" y="1080" width="7" height="64" fill="#000"/>
<rect x="838" y="88" width="6" height="66" fill="#000"/>
<rect x="920" y="77" width="6" height="113" fill="#000"/>
<rect x="1083" y="1067" width="6" height="82" fill="#000"/>
<rect x="1165" y="69" width="6" height="345" fill="#000"/>
<rect x="1246" y="104" width="7" height="143" fill="#000"/>
<rect x="1410" y="1091" width="6" height="43" fill="#000"/>
<rect x="1491" y="134" width="7" height="431" fill="#000"/>
<rect x="1573" y="140" width="6" height="330" fill="#000"/>
<rect x="1736" y="1071" width="7" height="56" fill="#000"/>
<rect x="1818" y="459" width="6" height="536" fill="#000"/>
<rect x="1900" y="328" width="6" height="356" fill="#000"/>
</g>
<g id="axes">
<rect x="345.5" y="63" width="11.5" height="1102" fill="#000"/>
<rect x="304" y="1153" width="1686" height="12" fill="#000"/>
<rect x="304" y="63" width="53" height="12" fill="#000"/>
<rect x="304" y="281" width="53" height="12" fill="#000"/>
<rect x="304" y="499" width="53" height="12" fill="#000"/>
<rect x="304" y="717" width="53" height="12" fill="#000"/>
<rect x="304" y="935" width="53" height="12" fill="#000"/>
<rect x="304" y="1153" width="53" height="12" fill="#000"/>
<rect x="508.8" y="1164" width="11.6" height="42" fill="#000"/>
<rect x="835.45" y="1164" width="11.6" height="42" fill="#000"/>
<rect x="1162.1" y="1164" width="11.6" height="42" fill="#000"/>
<rect x="1488.75" y="1164" width="11.6" height="42" fill="#000"/>
<rect x="1815.4" y="1164" width="11.6" height="42" fill="#000"/>
</g>
<g id="yticklabels" class="b" text-anchor="end">
<text x="296.8" y="101.9">100</text>
<text x="296.8" y="319.9">80</text>
<text x="296.8" y="537.9">60</text>
<text x="296.8" y="755.9">40</text>
<text x="296.8" y="973.9">20</text>
<text x="296.8" y="1191.9">0</text>
</g>
<text id="ytitle" transform="translate(102.1 1214.5) rotate(-90)" style="letter-spacing:-0.977px"><tspan x="0">% </tspan><tspan x="97.8">of </tspan><tspan x="196">inhibition </tspan><tspan x="567">biofilm </tspan><tspan x="848.8">formation</tspan></text>
<g id="xticklabels" class="b" text-anchor="end">
<text transform="translate(548.3 1284.4) rotate(-45)">128 μg/mL</text>
<text transform="translate(874.95 1284.4) rotate(-45)">64 μg/mL</text>
<text transform="translate(1201.6 1284.4) rotate(-45)">32 μg/mL</text>
<text transform="translate(1528.25 1284.4) rotate(-45)">16 μg/mL</text>
<text transform="translate(1854.9 1284.4) rotate(-45)">8 μg/mL</text>
</g>
<g id="legend">
<clipPath id="c16"><rect x="112" y="1626" width="106" height="47"/></clipPath>
<g clip-path="url(#c16)">
<rect x="112" y="1626" width="106" height="47" fill="#a0a0a4"/>
<path fill="#fff" d="M120.65 1623.65h6.2v6.2h-6.2zM142.75 1623.65h6.2v6.2h-6.2zM164.85 1623.65h6.2v6.2h-6.2zM186.95 1623.65h6.2v6.2h-6.2zM209.05 1623.65h6.2v6.2h-6.2zM109.6 1645.4h6.2v6.2h-6.2zM131.7 1645.4h6.2v6.2h-6.2zM153.8 1645.4h6.2v6.2h-6.2zM175.9 1645.4h6.2v6.2h-6.2zM198 1645.4h6.2v6.2h-6.2zM220.1 1645.4h6.2v6.2h-6.2zM120.65 1667.15h6.2v6.2h-6.2zM142.75 1667.15h6.2v6.2h-6.2zM164.85 1667.15h6.2v6.2h-6.2zM186.95 1667.15h6.2v6.2h-6.2zM209.05 1667.15h6.2v6.2h-6.2z"/>
</g>
<path fill="#000" fill-rule="evenodd" d="M107 1621H224V1678H107ZM113 1627H217V1672H113Z"/>
<text class="i" x="310" y="1679">C.albicans</text>
<clipPath id="c17"><rect x="754" y="1624" width="107" height="46"/></clipPath>
<g clip-path="url(#c17)">
<rect x="754" y="1624" width="107" height="46" fill="#fff"/>
<path fill="none" stroke="#000" stroke-width="17.82" stroke-linecap="butt" d="M809.9 1621.5L860.9 1672.5M754.9 1621.5L805.9 1672.5"/>
</g>
<path fill="#000" fill-rule="evenodd" d="M749 1618H866V1676H749ZM755 1625H860V1669H755Z"/>
<text class="i" x="953" y="1676.2">C.glabrata</text>
<clipPath id="c18"><rect x="1446" y="1626" width="106" height="47"/></clipPath>
<g clip-path="url(#c18)">
<rect x="1446" y="1626" width="106" height="47" fill="#cdcdcd"/>
<path fill="#323232" d="M1444.9 1635.2l14.8 14.8l-14.8 14.8l-14.8 -14.8zM1472.15 1607.95l14.8 14.8l-14.8 14.8l-14.8 -14.8zM1472.15 1662.45l14.8 14.8l-14.8 14.8l-14.8 -14.8zM1499.4 1635.2l14.8 14.8l-14.8 14.8l-14.8 -14.8zM1526.65 1607.95l14.8 14.8l-14.8 14.8l-14.8 -14.8zM1526.65 1662.45l14.8 14.8l-14.8 14.8l-14.8 -14.8zM1553.9 1635.2l14.8 14.8l-14.8 14.8l-14.8 -14.8z"/>
</g>
<path fill="#000" fill-rule="evenodd" d="M1440 1621H1558V1678H1440ZM1447 1627H1551V1672H1447Z"/>
<text class="i" x="1621" y="1679">C.krusei</text>
</g>
</svg>
</body></html>
